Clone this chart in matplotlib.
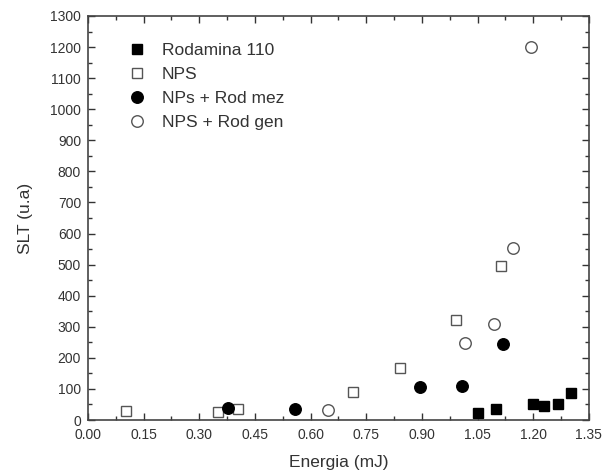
import matplotlib
matplotlib.use("Agg")
import matplotlib.pyplot as plt
from matplotlib.ticker import MultipleLocator, FormatStrFormatter

plt.rcParams['font.family'] = ['Liberation Sans', 'DejaVu Sans']

rod_x = [1.052, 1.099, 1.200, 1.230, 1.268, 1.302]
rod_y = [23, 34, 50, 46, 51, 88]

nps_x = [0.102, 0.351, 0.405, 0.715, 0.842, 0.992, 1.112]
nps_y = [29, 27, 35, 89, 168, 322, 497]

mez_x = [0.376, 0.557, 0.896, 1.007, 1.119]
mez_y = [38, 34, 107, 109, 244]

gen_x = [0.647, 1.016, 1.095, 1.146, 1.194]
gen_y = [32, 249, 308, 552, 1199]

labels = ["Rodamina 110", "NPS", "NPs + Rod mez", "NPS + Rod gen"]

fig = plt.figure(figsize=(6.04, 4.76), dpi=100)
ax = fig.add_axes([0.1457, 0.1176, 0.8293, 0.8488])

ms = 7.8
ax.plot(rod_x, rod_y, 's', color='black', ms=ms, label=labels[0])
ax.plot(nps_x, nps_y, 's', mfc='white', mec='#555555', mew=1.0, ms=ms, label=labels[1])
ax.plot(mez_x, mez_y, 'o', color='black', ms=ms + 0.5, label=labels[2])
ax.plot(gen_x, gen_y, 'o', mfc='white', mec='#555555', mew=1.0, ms=ms + 0.5, label=labels[3])

ax.set_xlim(0, 1.35)
ax.set_ylim(0, 1300)
ax.xaxis.set_major_locator(MultipleLocator(0.15))
ax.xaxis.set_minor_locator(MultipleLocator(0.075))
ax.yaxis.set_major_locator(MultipleLocator(100))
ax.yaxis.set_minor_locator(MultipleLocator(50))
ax.xaxis.set_major_formatter(FormatStrFormatter('%.2f'))

ax.tick_params(which='both', direction='in', top=True, right=True, labelsize=10, colors='#333333', labelcolor='#333333')
ax.tick_params(which='major', length=5, width=1)
ax.tick_params(which='minor', length=3, width=1)
ax.tick_params(axis='x', which='major', pad=6)
ax.tick_params(axis='y', which='major', pad=5)
for s in ax.spines.values():
    s.set_color('#444444')
    s.set_linewidth(1.2)

ax.set_xlabel('Energia (mJ)', fontsize=12.5, color='#333333', labelpad=9)
ax.set_ylabel('SLT (u.a)', fontsize=12.5, color='#333333', labelpad=12)

leg = ax.legend(loc='upper left', bbox_to_anchor=(0.05, 0.972), frameon=False,
                fontsize=12.5, handletextpad=0.9, labelspacing=0.5, handlelength=1.0,
                labelcolor='#333333')

fig.savefig('out.png', dpi=100, facecolor='white')
